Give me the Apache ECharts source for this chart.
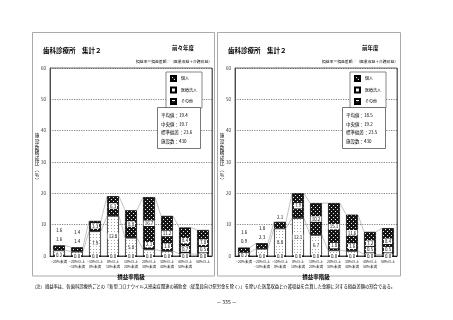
<!DOCTYPE html>
<html><head><meta charset="utf-8">
<script src="https://cdn.jsdelivr.net/npm/echarts@6/dist/echarts.min.js"></script>
<style>html,body{margin:0;padding:0;background:#fff}#c{width:453px;height:320px}</style>
</head><body><div id="c"></div>
<script>
// ---- data ----
const categories = ['−20%未満','−20%以上\n−10%未満','−10%以上\n0%未満','0%以上\n10%未満','10%以上\n20%未満','20%以上\n30%未満','30%以上\n40%未満','40%以上\n50%未満','50%以上'];
const yTicks = [0,10,20,30,40,50,60];
const seriesNames = ['個人','医療法人','その他'];
// 前々年度
const kojinA  = [1.6, 1.4, 3.3, 6.3, 8.8, 16.7, 11.2, 8.4, 7.8];
const iryoA   = [1.6, 1.4, 7.9, 12.8, 5.8, 2.1, 1.6, 0.7, 0.5];
const sonotaA = [0.2, 0.0, 0.0, 0.0, 0.0, 0.0, 0.0, 0.0, 0.0];
// 前年度
const kojinB  = [1.6, 1.8, 2.1, 7.9, 10.2, 15.1, 11.6, 7.2, 8.4];
const iryoB   = [0.9, 2.3, 8.8, 12.1, 6.7, 1.8, 1.6, 0.5, 0.5];
const sonotaB = [0.2, 0.0, 0.0, 0.0, 0.0, 0.0, 0.0, 0.0, 0.0];
const statsA = ['平均値：19.4','中央値：19.7','標準偏差：23.6','施設数：430'];
const statsB = ['平均値：18.5','中央値：19.2','標準偏差：23.5','施設数：430'];
const panelTitle = '歯科診療所　集計２';
const yearA = '前々年度', yearB = '前年度';
const formulaText = '損益率＝損益差額／（医業収益＋介護収益）';
const yName = '施設数構成比（%）';
const xName = '損益率階級';
const footnote = '（注）損益率は、各歯科診療所ごとの「新型コロナウイルス感染症関連の補助金（従業員向け慰労金を除く）」を除いた医業収益と介護収益を合算した金額に対する損益差額の割合である。';
const pageNo = '－ 335 －';

// ---- patterns ----
function pat(size, bg, fg, pts){
  const c = document.createElement('canvas'); c.width = size; c.height = size;
  const g = c.getContext('2d'); g.fillStyle = bg; g.fillRect(0,0,size,size);
  g.fillStyle = fg; pts.forEach(p => g.fillRect(p[0],p[1],1,1));
  return {image: c, repeat: 'repeat'};
}
const patKojin = pat(4,'#151515','#e8e8e8',[[1,1],[3,3]]);
const patIryo  = pat(3,'#ffffff','#a8a8a8',[[0,0]]);
const patSonota= pat(4,'#1a1a1a','#ffffff',[[0,1],[1,1],[2,1],[3,1]]);
const colors = {'個人':patKojin,'医療法人':patIryo,'その他':patSonota};

const GRID_H = 188, BW = 0.66;
const yMax = yTicks[yTicks.length-1];
const PX = GRID_H / yMax;
const vertical = s => s.replace('（','︵').replace('）','︶').split('').join('\n');
const fmt = p => Number(p.value).toFixed(1);
const baseLabel = {show:true, formatter:fmt, fontSize:4.5, color:'#000', backgroundColor:'#fff', padding:[0.5,1], position:'inside'};

function makeSeries(k, ir, so, gi){
  const n = k.length;
  const tot = k.map((v,j)=>v+ir[j]+so[j]);
  const kItems = k.map((v,j)=>{
    const it = {value:v};
    if (tot[j] < 5) it.label = {position:'top', distance:12};
    else if (v < 2.5) it.label = {position:'top', distance:2};
    return it;
  });
  const iItems = ir.map((v,j)=>{
    const it = {value:v};
    if (tot[j] < 5) it.label = {position:'top', distance:k[j]*PX + 3.5};
    else if (v < 2.5) it.label = {position:'top', distance:2};
    return it;
  });
  const sItems = so.map(v=>({value:v}));
  const common = {type:'bar', stack:'s'+gi, xAxisIndex:gi, yAxisIndex:gi, barWidth:(BW*100)+'%', z:3,
    label: baseLabel};
  const lines = [];
  for (let j=0;j<n-1;j++){
    const c1a=so[j], c1b=so[j+1];
    const c2a=so[j]+ir[j], c2b=so[j+1]+ir[j+1];
    lines.push([j, c1a, c1b, c2a, c2b, tot[j], tot[j+1]]);
  }
  return [
    Object.assign({}, common, {name:'その他', data:sItems, itemStyle:{color:colors['その他'], borderColor:'#000', borderWidth:0.7}}),
    Object.assign({}, common, {name:'医療法人', data:iItems, itemStyle:{color:colors['医療法人'], borderColor:'#000', borderWidth:0.7}}),
    Object.assign({}, common, {name:'個人', data:kItems, itemStyle:{color:colors['個人'], borderColor:'#000', borderWidth:0.7}}),
    {type:'custom', xAxisIndex:gi, yAxisIndex:gi, z:1, silent:true, encode:{x:0, y:1}, data:lines,
     renderItem:function(params, api){
       const j = api.value(0);
       const bw = api.size([1,0])[0]*BW;
       const ch = [];
       for (let l=0;l<3;l++){
         const p1 = api.coord([j, api.value(1+2*l)]);
         const p2 = api.coord([j+1, api.value(2+2*l)]);
         ch.push({type:'line', shape:{x1:p1[0]+bw/2, y1:p1[1], x2:p2[0]-bw/2, y2:p2[1]}, style:{stroke:'#9a9a9a', lineWidth:0.6}});
       }
       return {type:'group', children:ch};
     }}
  ];
}

function xAxisCfg(gi){
  return {type:'category', gridIndex:gi, data:categories,
    axisLine:{show:true, lineStyle:{color:'#000', width:0.8}},
    axisTick:{show:false},
    axisLabel:{interval:0, fontSize:3.5, lineHeight:5.5, color:'#222', margin:2.5},
    splitLine:{show:true, interval:function(idx){return idx===3;}, lineStyle:{color:'#555', width:0.8, type:'solid'}},
    name:xName, nameLocation:'middle', nameGap:13, nameTextStyle:{fontSize:5.5, fontWeight:'bold', color:'#000'}};
}
function yAxisCfg(gi){
  return {type:'value', gridIndex:gi, min:yTicks[0], max:yMax, interval:yTicks[1]-yTicks[0],
    axisLine:{show:true, lineStyle:{color:'#444', width:0.8}},
    axisTick:{show:false},
    axisLabel:{fontSize:4.5, color:'#333', margin:4},
    splitLine:{show:true, lineStyle:{color:'#333', width:0.6, type:[1.2,1.2]}}};
}
function legendCfg(left){
  return {data:seriesNames, orient:'vertical', left:left, top:72, itemWidth:5, itemHeight:5, itemGap:4.5, icon:'rect',
    selectedMode:false, textStyle:{fontSize:4, color:'#000'}, borderColor:'#555', borderWidth:0.7,
    padding:[3,5,3,4], backgroundColor:'#fff', z:10};
}
function statsCfg(lines, left){
  return {text:lines.join('\n'), left:left, top:107, padding:[4,9,3,4], borderColor:'#555', borderWidth:0.8,
    backgroundColor:'#fff', z:10, textStyle:{fontSize:4.5, lineHeight:8.6, fontWeight:'normal', color:'#000'}};
}
function yNameText(x){
  return {type:'text', silent:true, z:10, style:{text:vertical(yName), x:x, y:158, align:'center', verticalAlign:'middle',
    fontSize:4.6, lineHeight:5.6, fill:'#000', fontFamily:'"Noto Sans CJK JP", sans-serif'}};
}
const tTitle = {fontSize:6.5, fontWeight:'bold', color:'#000'};
const option = {
  animation:false,
  textStyle:{fontFamily:'"Noto Sans CJK JP", sans-serif'},
  grid:[
    {left:50, top:68, width:162, height:GRID_H, show:true, borderColor:'#444', borderWidth:0.8, backgroundColor:'transparent'},
    {left:235, top:68, width:162, height:GRID_H, show:true, borderColor:'#444', borderWidth:0.8, backgroundColor:'transparent'}
  ],
  xAxis:[xAxisCfg(0), xAxisCfg(1)],
  yAxis:[yAxisCfg(0), yAxisCfg(1)],
  legend:[legendCfg(166), legendCfg(350)],
  title:[
    {text:panelTitle, left:43, top:47, padding:0, textStyle:tTitle},
    {text:yearA, left:172, top:45.5, padding:0, textStyle:{fontSize:5.5, fontWeight:'bold', color:'#000'}},
    {text:formulaText, right:453-212, top:60, padding:0, textStyle:{fontSize:3.8, fontWeight:'normal', color:'#000'}},
    statsCfg(statsA, 157),
    {text:panelTitle, left:228, top:47, padding:0, textStyle:tTitle},
    {text:yearB, left:362, top:45.5, padding:0, textStyle:{fontSize:5.5, fontWeight:'bold', color:'#000'}},
    {text:formulaText, right:453-398, top:60, padding:0, textStyle:{fontSize:3.8, fontWeight:'normal', color:'#000'}},
    statsCfg(statsB, 342),
    {text:footnote, left:32, top:284, padding:0, textStyle:{fontSize:4.3, fontWeight:'normal', color:'#000'}},
    {text:pageNo, left:'center', top:300, padding:0, textStyle:{fontSize:5, fontWeight:'normal', color:'#000'}}
  ],
  graphic:[
    {type:'rect', silent:true, z:-10, shape:{x:32.5, y:32.5, width:182, height:243.5}, style:{fill:'none', stroke:'#aaa', lineWidth:1}},
    {type:'rect', silent:true, z:-10, shape:{x:217.5, y:32.5, width:183, height:243.5}, style:{fill:'none', stroke:'#aaa', lineWidth:1}},
    yNameText(37), yNameText(222)
  ],
  series:[].concat(makeSeries(kojinA, iryoA, sonotaA, 0), makeSeries(kojinB, iryoB, sonotaB, 1))
};
const chart = echarts.init(document.getElementById('c'), null, {renderer:'canvas'});
chart.setOption(option);
</script></body></html>
